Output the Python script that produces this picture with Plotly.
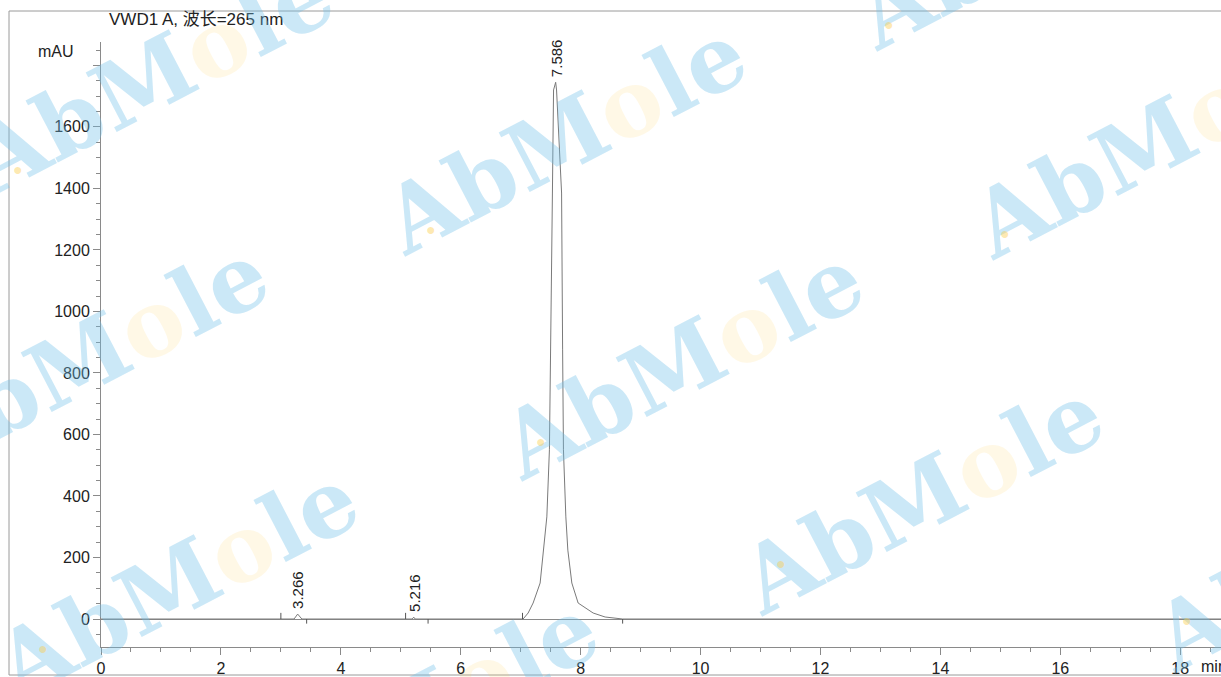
import plotly.graph_objects as go

# ---------------- data ----------------
time_min = [0.0, 3.22, 3.28, 3.35, 5.19, 5.216, 5.24,
            7.04, 7.124, 7.207, 7.324, 7.379, 7.436, 7.479, 7.503, 7.529, 7.548,
            7.583, 7.598, 7.682, 7.699, 7.713, 7.753, 7.786, 7.853, 7.958, 8.208,
            8.408, 8.70, 18.68]
signal_mau = [0, 0, 16, 0, 0, 6, 0,
              0, 19.5, 52, 117, 224, 332, 550, 875, 1385, 1720,
              1745, 1720, 1385, 875, 550, 332, 224, 117, 52, 19.5,
              6.5, 0, 0]

peak_rt = [3.266, 5.216, 7.586]
peak_label_height = [16, 6, 1745]
peak_start = [3.00, 5.08, 7.03]
peak_end = [3.43, 5.455, 8.70]

x_ticks = [0, 2, 4, 6, 8, 10, 12, 14, 16, 18]
y_ticks = [0, 200, 400, 600, 800, 1000, 1200, 1400, 1600, 1800]
y_tick_text = ["0", "200", "400", "600", "800", "1000", "1200", "1400", "1600", ""]

title_text = "VWD1 A, 波长=265 nm"
y_unit = "mAU"
x_unit = "min"

# ---------------- layout constants ----------------
W, H = 1221, 677
ML, MR, MT, MB = 101, 0, 42, 30
PW, PH = W - ML - MR, H - MT - MB
FONT = "Liberation Sans, Arial, Noto Sans CJK SC, sans-serif"
AX = "#8a8a8a"
TXT = "#222222"


def px(xp):
    return (xp - ML) / PW


def py(yp):
    return (H - MB - yp) / PH


fig = go.Figure()

fig.add_trace(go.Scatter(x=time_min, y=signal_mau, mode="lines",
                         line=dict(color="#7a7a7a", width=1), hoverinfo="skip",
                         showlegend=False))

# integration start (up) / end (down) marks
mx, my = [], []
for s, e in zip(peak_start, peak_end):
    mx += [s, s, None, e, e, None]
    my += [0, 20, None, 0, -15, None]
fig.add_trace(go.Scatter(x=mx, y=my, mode="lines",
                         line=dict(color="#555555", width=1), hoverinfo="skip",
                         showlegend=False))

annotations = []
for rt, h in zip(peak_rt, peak_label_height):
    annotations.append(dict(x=rt, y=h, xref="x", yref="y", text=f"{rt:.3f}",
                            textangle=-90, showarrow=False, xanchor="center",
                            yanchor="bottom", yshift=3,
                            font=dict(family=FONT, size=15, color=TXT)))

annotations.append(dict(x=px(107), y=py(20), xref="paper", yref="paper",
                        text=title_text, showarrow=False, xanchor="left",
                        yanchor="middle", font=dict(family=FONT, size=17, color=TXT)))
annotations.append(dict(x=px(36), y=py(52), xref="paper", yref="paper",
                        text=y_unit, showarrow=False, xanchor="left",
                        yanchor="middle", font=dict(family=FONT, size=16, color=TXT)))
annotations.append(dict(x=px(1199), y=py(666), xref="paper", yref="paper",
                        text=x_unit, showarrow=False, xanchor="left",
                        yanchor="middle", font=dict(family=FONT, size=16, color=TXT)))

# watermark "AbMole" (centres in pixels)
wm_centres = [(151, 78), (564, 138), (1152, 142), (86, 358), (681, 363),
              (921, 498), (176, 583), (416, 713), (1334, 555), (1036, -67)]
wm_text = "AbM<span style='color:rgba(252,205,80,0.40)'>o</span>le"
for cx, cy in wm_centres:
    annotations.append(dict(x=px(cx), y=py(cy), xref="paper", yref="paper",
                            text=wm_text, showarrow=False, textangle=-27.5,
                            xanchor="center", yanchor="middle",
                            font=dict(family="DejaVu Serif", size=92,
                                      color="rgba(110,190,232,0.36)",
                                      weight="bold")))
    annotations.append(dict(x=px(cx - 140), y=py(cy + 78), xref="paper", yref="paper",
                            text="●", showarrow=False,
                            font=dict(size=16, color="rgba(252,205,80,0.45)")))

shapes = [dict(type="rect", xref="paper", yref="paper",
               x0=px(9), x1=px(1240), y0=py(675), y1=py(11),
               line=dict(color="#9a9a9a", width=1), layer="below")]

fig.update_layout(
    width=W, height=H,
    margin=dict(l=ML, r=MR, t=MT, b=MB, pad=0),
    paper_bgcolor="white", plot_bgcolor="white",
    showlegend=False,
    annotations=annotations, shapes=shapes,
    xaxis=dict(range=[0, 18.68], tickmode="array", tickvals=x_ticks,
               ticktext=[str(v) for v in x_ticks],
               showline=True, linecolor=AX, linewidth=1, mirror=False,
               showgrid=False, zeroline=False,
               ticks="outside", ticklen=7, tickcolor=AX, tickwidth=1,
               minor=dict(dtick=0.5, tick0=0, ticks="outside", ticklen=4,
                          tickcolor=AX, showgrid=False),
               tickfont=dict(family=FONT, size=16, color=TXT)),
    yaxis=dict(range=[-91, 1876], tickmode="array", tickvals=y_ticks,
               ticktext=y_tick_text,
               showline=True, linecolor=AX, linewidth=1, mirror=False,
               showgrid=False, zeroline=True, zerolinecolor=AX, zerolinewidth=1,
               ticks="outside", ticklen=7, tickcolor=AX, tickwidth=1,
               minor=dict(dtick=50, tick0=0, ticks="outside", ticklen=4,
                          tickcolor=AX, showgrid=False),
               tickfont=dict(family=FONT, size=16, color=TXT)),
)

fig.write_html("out.html", config={"displayModeBar": False},
               post_script="document.body.style.margin='0';document.body.style.overflow='hidden';")
